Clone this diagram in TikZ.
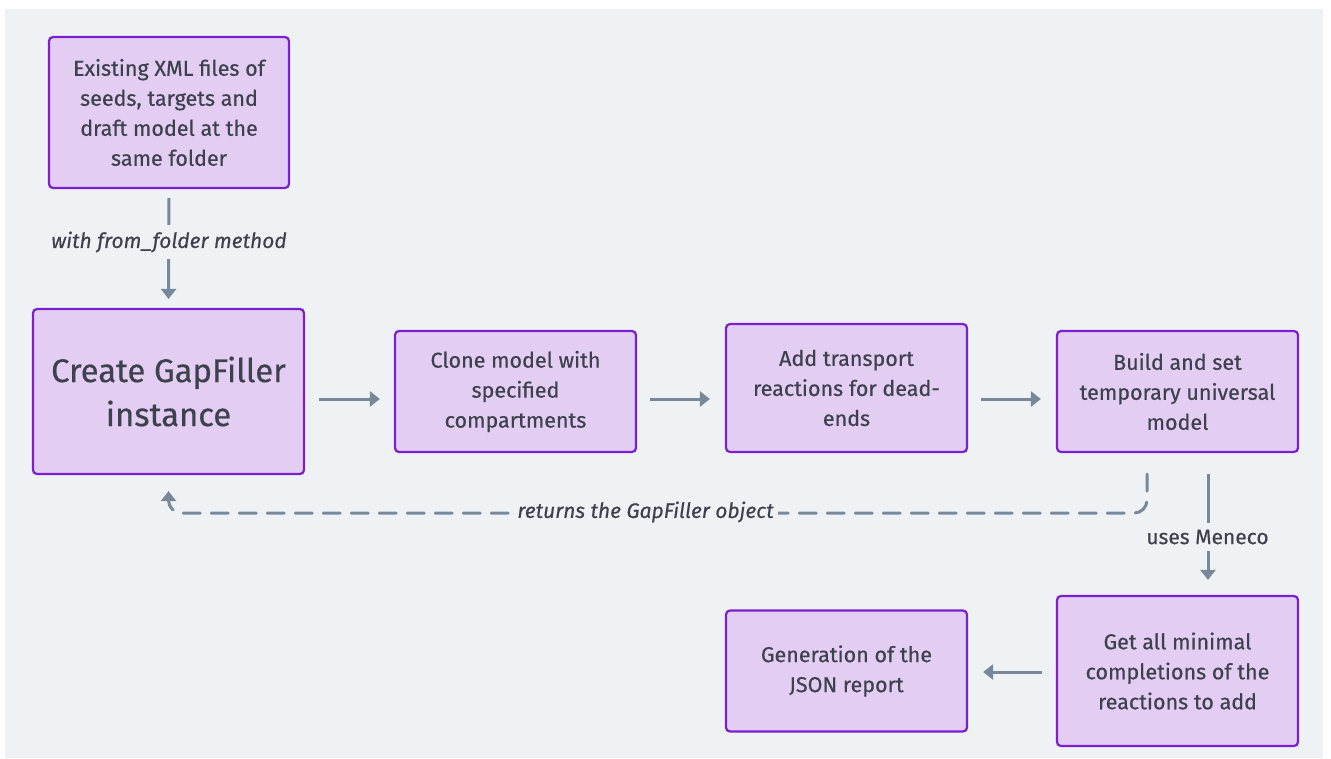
\documentclass[tikz,border=0pt]{standalone}
\usepackage{fontspec}
\setmainfont{Fira Sans}[FakeBold=0.45]
\usetikzlibrary{arrows.meta,calc}
\definecolor{pagebg}{HTML}{EFF2F5}
\definecolor{boxfill}{HTML}{E3CDF3}
\definecolor{boxline}{HTML}{7C1FD0}
\definecolor{ink}{HTML}{3C414D}
\definecolor{link}{HTML}{77889A}
\tikzset{
  stepbox/.style={draw=boxline, fill=boxfill, line width=2.2pt, rounded corners=4pt,
    text=ink, align=center, inner sep=0pt,
    font=\fontsize{21.5}{30}\selectfont},
  bigbox/.style={stepbox, font=\fontsize{32.8}{44}\selectfont},
  flow/.style={draw=link, line width=3pt, -{Triangle[length=10pt,width=15pt]}},
  retflow/.style={flow, dash pattern=on 17pt off 11pt, line cap=round, rounded corners=13pt},
  tag/.style={fill=pagebg, text=ink, font=\fontsize{21}{24}\selectfont, inner xsep=3pt, inner ysep=7pt},
  itag/.style={tag, font=\fontsize{21}{24}\selectfont\itshape},
}
\begin{document}
\begin{tikzpicture}[x=1pt,y=-1pt]
  % page and canvas
  \fill[white] (0,0) rectangle (1331,758);
  \fill[pagebg] (5,9) rectangle (1323,758);
  \useasboundingbox (0,0) rectangle (1331,758);

  % process steps
  \node[stepbox, minimum width=240pt, minimum height=151pt] (files) at (169,112.5)
    {Existing XML files of\\seeds, targets and\\draft model at the\\same folder};
  \node[bigbox, minimum width=271pt, minimum height=165pt] (create) at (168.5,391.5)
    {Create GapFiller\\instance};
  \node[stepbox, minimum width=241pt, minimum height=121pt] (clone) at (515.5,391.5)
    {Clone model with\\specified\\compartments};
  \node[stepbox, minimum width=241pt, minimum height=128pt] (transport) at (846.5,388)
    {Add transport\\reactions for dead-\\ends};
  \node[stepbox, minimum width=241pt, minimum height=121pt] (universal) at (1177.5,391.5)
    {Build and set\\temporary universal\\model};
  \node[stepbox, minimum width=241pt, minimum height=150pt] (completions) at (1177.5,671)
    {Get all minimal\\completions of the\\reactions to add};
  \node[stepbox, minimum width=241pt, minimum height=121pt] (report) at (846.5,671)
    {Generation of the\\JSON report};

  % connectors
  \draw[flow] ([yshift=-9pt]files.south) -- ([yshift=9pt]create.north);
  \node[itag] (fromfolder) at (169,242) {with from\_folder method};

  \draw[flow] ([xshift=14pt,yshift=-7.5pt]create.east) -- ([xshift=-14pt,yshift=-7.5pt]clone.west);
  \draw[flow] ([xshift=13pt,yshift=-7.5pt]clone.east) -- ([xshift=-15pt,yshift=-11pt]transport.west);
  \draw[flow] ([xshift=13pt,yshift=-11pt]transport.east) -- ([xshift=-15pt,yshift=-7.5pt]universal.west);

  \draw[flow] ([xshift=30.5pt,yshift=-21pt]universal.south) -- ([xshift=30.5pt,yshift=15pt]completions.north);
  \node[tag] (meneco) at (1207.5,537) {uses Meneco};

  \draw[flow] ([xshift=-14pt,yshift=-1pt]completions.west) -- ([xshift=15pt,yshift=-1pt]report.east);

  % result handed back to the caller
  \path ([yshift=-38pt]create.south) coordinate (back);
  \draw[retflow] ([xshift=-30.5pt,yshift=-21pt]universal.south) |- (back) -- ([yshift=-16pt]create.south);
  \node[itag, inner xsep=4pt] (returns) at (645.5,512) {returns the GapFiller object};
\end{tikzpicture}
\end{document}
